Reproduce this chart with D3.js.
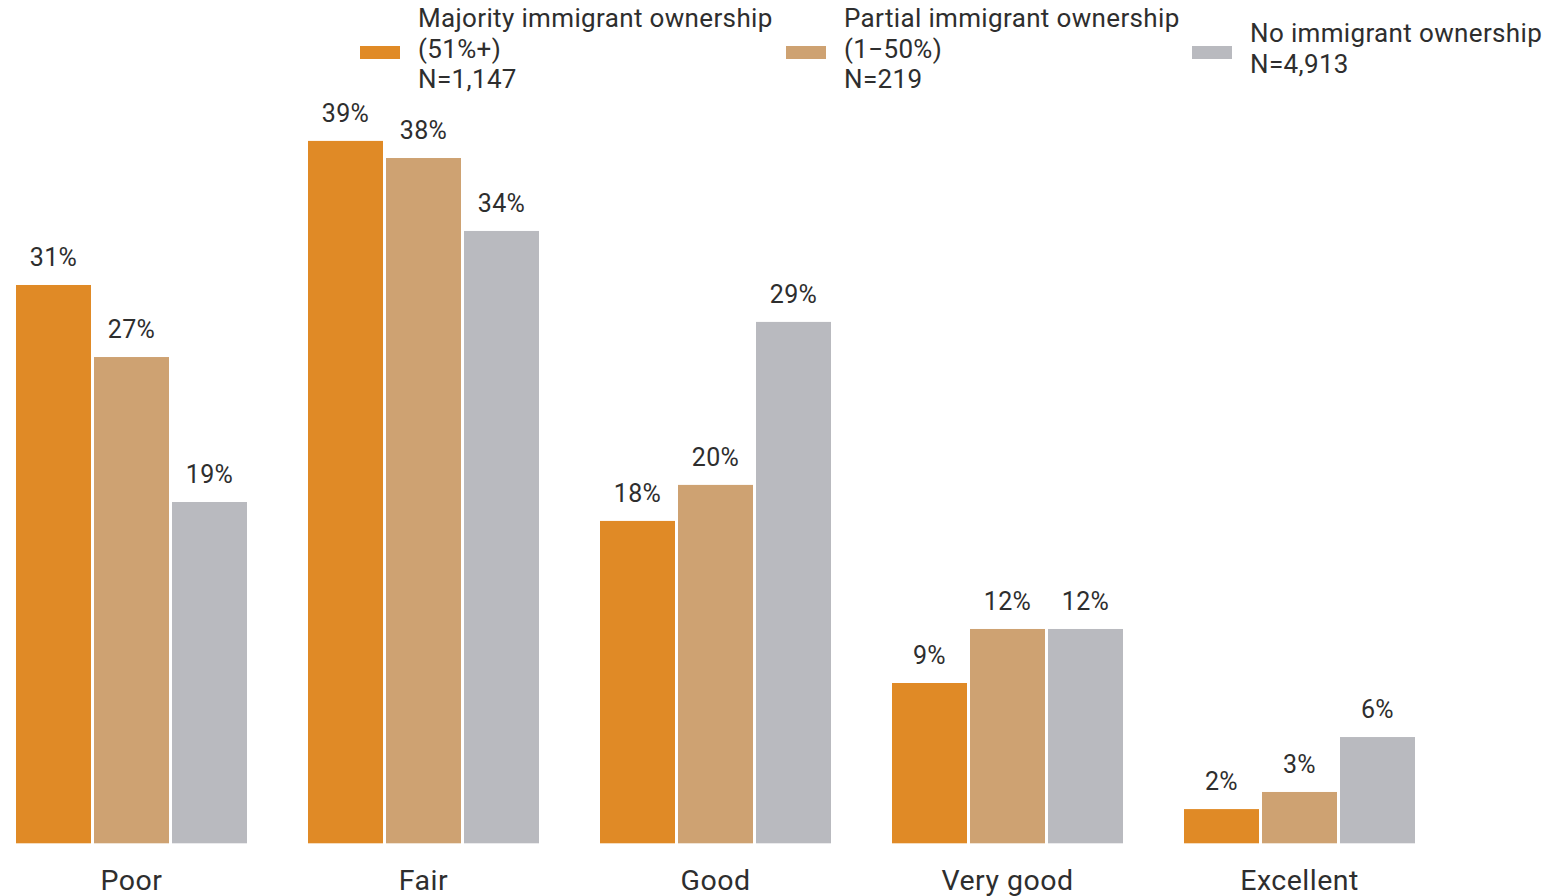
<!DOCTYPE html>
<html>
<head>
<meta charset="utf-8">
<script src="https://cdn.jsdelivr.net/npm/d3@7"></script>
<style>
html,body{margin:0;padding:0;background:#fff;}
svg{display:block;font-family:Roboto,"Noto Sans",sans-serif;}
</style>
</head>
<body>
<svg id="chart" width="1550" height="896"></svg>
<script>
const categories = ["Poor", "Fair", "Good", "Very good", "Excellent"];
const seriesNames = ["majority", "partial", "none"];
const legendLabels = [
  ["Majority immigrant ownership", "(51%+)", "N=1,147"],
  ["Partial immigrant ownership", "(1\u221250%)", "N=219"],
  ["No immigrant ownership", "N=4,913"]
];
const majority = [31.0, 39.0, 17.9, 8.9, 1.9];
const partial  = [27.0, 38.05, 19.9, 11.9, 2.85];
const none     = [18.95, 34.0, 28.95, 11.9, 5.9];
const colors = ["#E08A26", "#CEA272", "#B9BABF"];

const values = [majority, partial, none];
const svg = d3.select("#chart");
const textColor = "#2e2e2e";

const x0 = d3.scaleBand().domain(categories).range([16, 1415]).paddingInner(61/292).paddingOuter(0);
const x1 = d3.scaleBand().domain(seriesNames).range([0, x0.bandwidth()]).paddingInner(3/78).paddingOuter(0);
const y = d3.scaleLinear().domain([0, 40]).range([843.3, 843.3 - 40*18.01]);

const data = categories.map((c, i) => ({cat: c, vals: seriesNames.map((s, j) => ({s, j, v: values[j][i]}))}));

const g = svg.selectAll("g.grp").data(data).join("g")
  .attr("class", "grp")
  .attr("transform", d => `translate(${x0(d.cat)},0)`);

g.selectAll("rect").data(d => d.vals).join("rect")
  .attr("x", d => x1(d.s))
  .attr("y", d => y(d.v))
  .attr("width", x1.bandwidth())
  .attr("height", d => y(0) - y(d.v))
  .attr("fill", d => colors[d.j]);

g.selectAll("text.val").data(d => d.vals).join("text")
  .attr("class", "val")
  .attr("x", d => x1(d.s) + x1.bandwidth()/2)
  .attr("y", d => y(d.v) - 19)
  .attr("text-anchor", "middle")
  .attr("font-size", 25)
  .attr("letter-spacing", 0.4)
  .attr("fill", textColor)
  .text(d => Math.round(d.v) + "%");

// category axis
const xAxis = d3.axisBottom(x0).tickSize(0).tickPadding(0);
const ax = svg.append("g").attr("transform", `translate(0,${y(0)})`).call(xAxis);
ax.select(".domain").remove();
ax.selectAll("text")
  .attr("dy", null)
  .attr("y", 47)
  .attr("font-size", 28.5)
  .attr("letter-spacing", 0.5)
  .attr("font-family", "Roboto, sans-serif")
  .attr("fill", textColor);

// legend
const legendPos = [{sx: 360, tx: 418}, {sx: 786, tx: 844}, {sx: 1192, tx: 1250}];
const lineH = 30.5;
const legendCenter = 52.5;
legendLabels.forEach((lines, i) => {
  const lg = svg.append("g");
  lg.append("rect")
    .attr("x", legendPos[i].sx).attr("y", legendCenter - 6.5)
    .attr("width", 40).attr("height", 13)
    .attr("fill", colors[i]);
  const n = lines.length;
  lines.forEach((t, k) => {
    const cy = legendCenter + (k - (n - 1)/2) * lineH;
    lg.append("text")
      .attr("x", legendPos[i].tx)
      .attr("y", cy + 5)
      .attr("font-size", 26)
      .attr("letter-spacing", 0.35)
      .attr("fill", textColor)
      .text(t);
  });
});
</script>
</body>
</html>
